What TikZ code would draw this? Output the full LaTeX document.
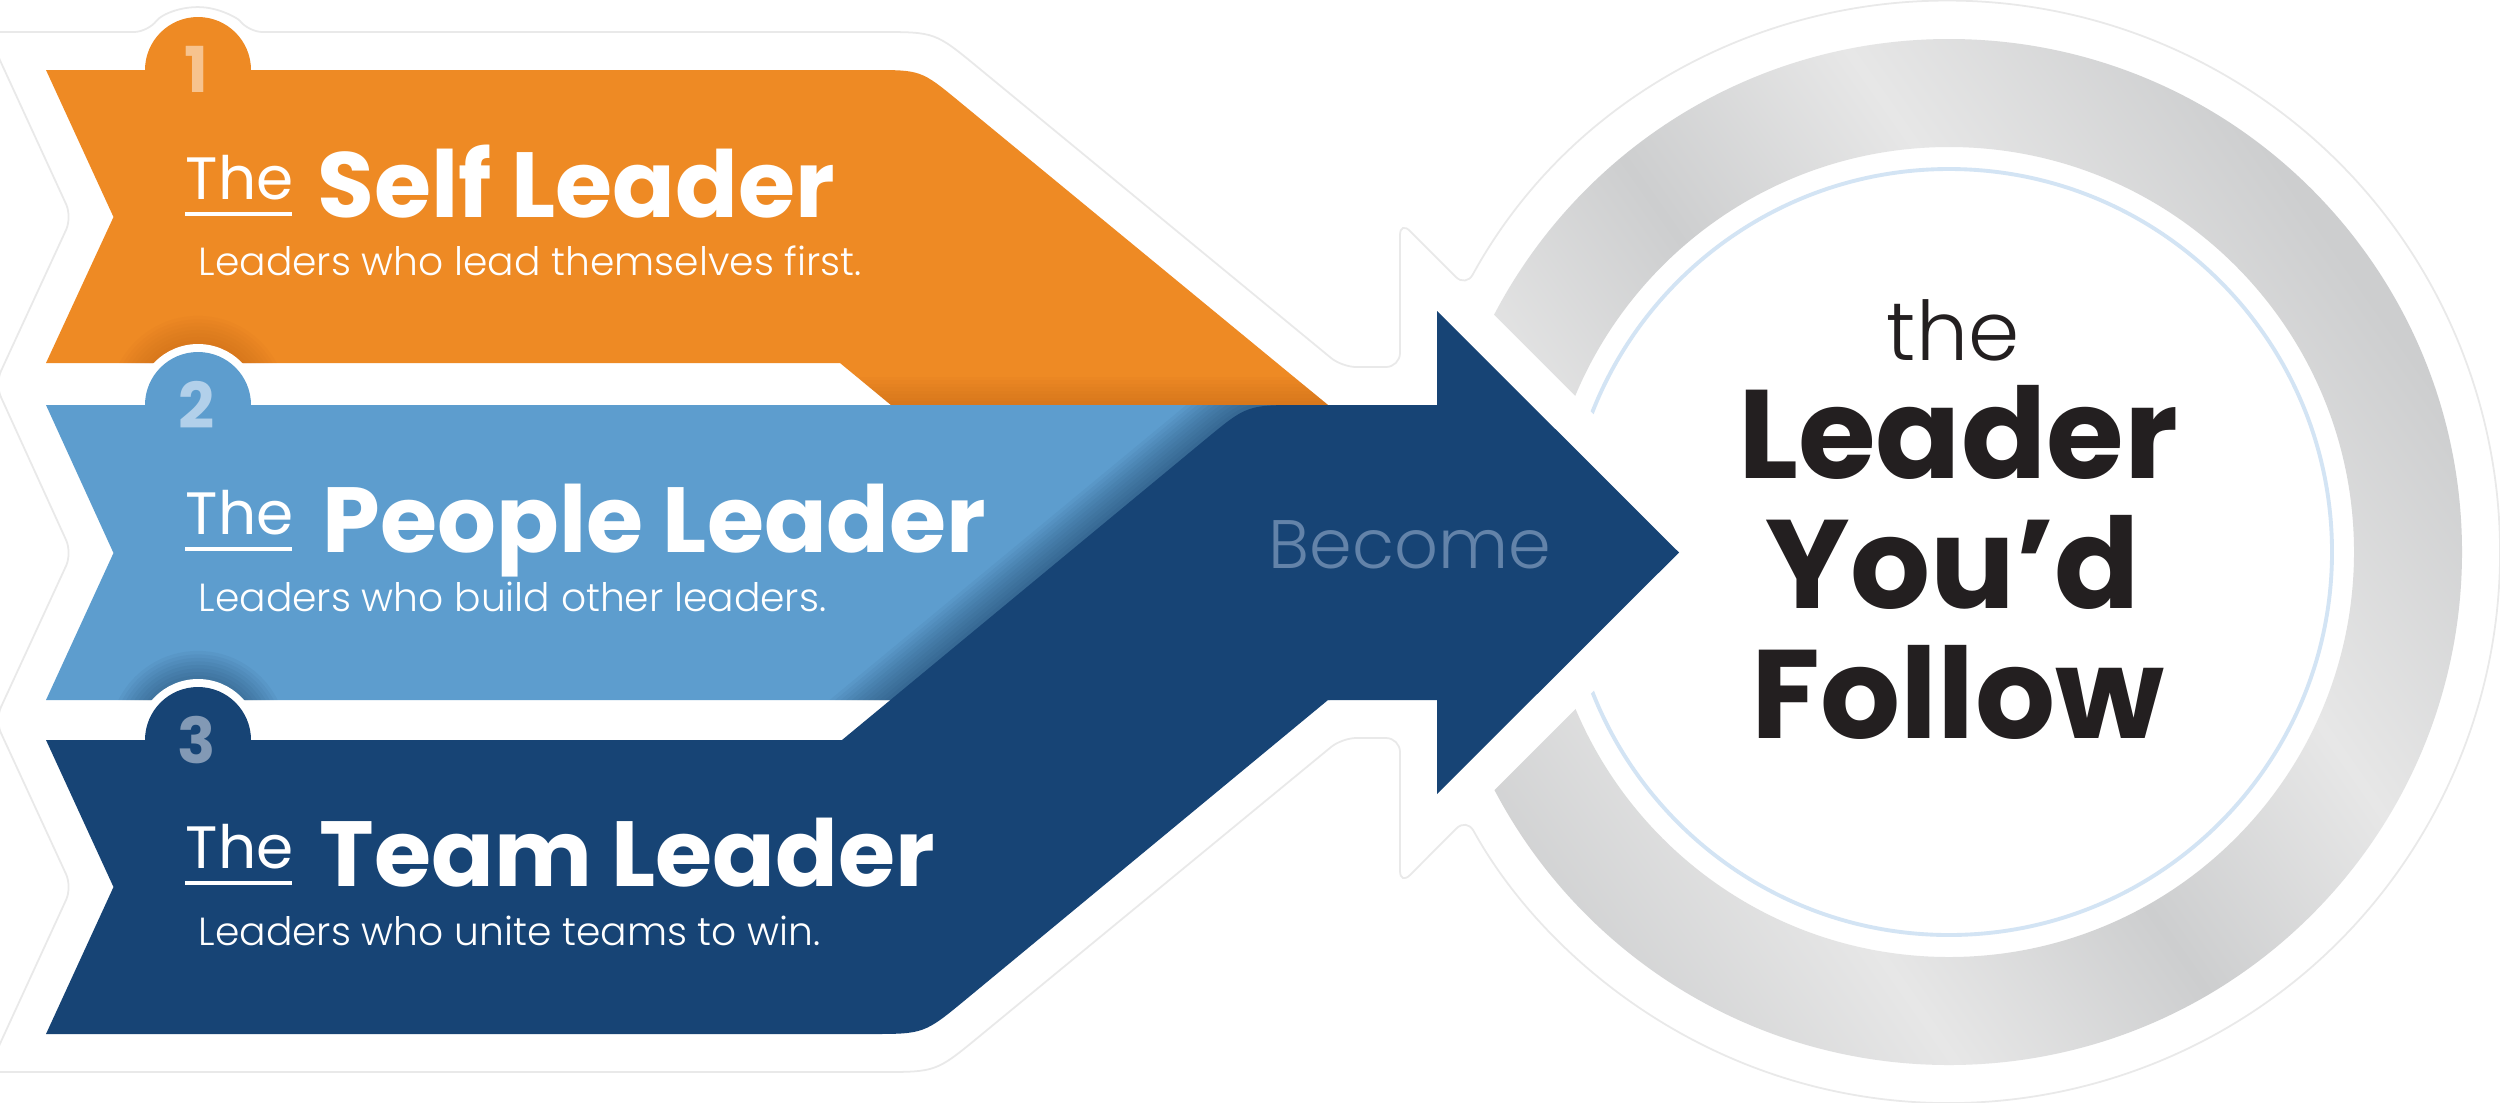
\documentclass[tikz,border=0pt]{standalone}
\usepackage{fontspec}
\setmainfont{Poppins}
\newfontfamily\poplight{Poppins Light}
\definecolor{orng}{HTML}{EE8A24}
\definecolor{orngdk}{HTML}{B85E12}
\definecolor{lblue}{HTML}{5D9DCE}
\definecolor{dblue}{HTML}{174475}
\definecolor{num1}{HTML}{F7C38E}
\definecolor{num2}{HTML}{B2D0EA}
\definecolor{num3}{HTML}{8299B5}
\definecolor{becomec}{HTML}{6383A9}
\definecolor{thinc}{HTML}{D3E4F4}
\definecolor{ringA}{HTML}{E7E7E7}
\definecolor{ringB}{HTML}{CDCECF}
\definecolor{inkc}{HTML}{231F20}
\definecolor{stick}{HTML}{E9E9E9}
\pgfdeclarehorizontalshading{metal}{100bp}{color(0bp)=(ringB); color(22bp)=(ringB); color(36bp)=(ringA); color(48bp)=(ringB); color(60bp)=(ringA); color(74bp)=(ringB); color(100bp)=(ringB)}
\tikzset{
  ttl/.style={anchor=base west, inner sep=0pt, text=white, font=\bfseries\fontsize{26.3}{30}\selectfont},
  thestyle/.style={anchor=base west, inner sep=0pt, text=white, font=\fontsize{17}{20}\selectfont},
  subt/.style={anchor=base west, inner sep=0pt, text=white, font=\poplight\fontsize{11.15}{14}\selectfont},
  numst/.style={inner sep=0pt, font=\bfseries\fontsize{18}{20}\selectfont},
  bigt/.style={anchor=base, inner sep=0pt, text=inkc, font=\bfseries\fontsize{35.8}{40}\selectfont},
  stickline/.style={draw=stick, line width=0.5pt},
  shd/.style={opacity=0.05}
}
\def\orangepath{(46,70) -- (145,70) arc[start angle=180,end angle=360,radius=53] -- (871,70) .. controls (921,70) .. (959.6,101.8) -- (1328,405) -- (891,405) -- (840,363) -- (46,363) -- (113.5,217) -- cycle}
\def\lbluepath{(46,405) -- (145,405) arc[start angle=180,end angle=360,radius=53] -- (1330,405) -- (1330,700) -- (46,700) -- (113.5,553) -- cycle}
\def\dbluepath{(46,740) -- (145,740) arc[start angle=180,end angle=360,radius=53] -- (842,740) -- (1204.6,440.1) .. controls (1247,405) .. (1302,405) -- (1437,405) -- (1437,311) -- (1679,552.5) -- (1437,794) -- (1437,700) -- (1328,700) -- (966.4,999) .. controls (924,1034) .. (869,1034) -- (46,1034) -- (113.5,887) -- cycle}
\begin{document}
\begin{tikzpicture}[x=0.01cm, y=-0.01cm]
\useasboundingbox (0,0) rectangle (2500,1102);
\fill[white] (0,0) rectangle (2500,1102);
% sticker outline
\draw[stickline, rounded corners=4pt] (1465.9,287) arc[start angle=-151.25,end angle=151.1,radius=551]
  -- (1400,885) -- (1400,738) -- (1342,738) -- (990.1,1027.5) .. controls (936,1072) .. (866,1072)
  -- (-13,1072) -- (72,887) -- (-5,720) -- (72,553) -- (-5,384) -- (72,217) -- (-13,32)
  -- (148,32) arc[start angle=-142.8,end angle=-37.2,radius=63]
  -- (865,32) .. controls (935,32) .. (989,76.5) -- (1342,367) -- (1400,367) -- (1400,221) -- cycle;
% silver ring and thin circle
\begin{scope}
  \clip (1732,552.5) -- (1179,0) -- (2600,0) -- (2600,1102) -- (1182.5,1102) -- cycle;
  \shade[even odd rule, shading=metal, shading angle=35] (1949,552) circle[radius=513] (1949,552) circle[radius=405];
  \draw[thinc, line width=1.1pt] (1949,552) circle[radius=383];
\end{scope}
% orange band
\fill[orng] \orangepath;
\begin{scope}
  \clip \orangepath;
  \foreach \w in {2,4,...,16} {
    \draw[line width=\w pt, orngdk, shd] (860,405) -- (1340,405);
    \draw[line width=\w pt, orngdk, shd] (198,405) circle[radius=61];
  }
\end{scope}
\fill[white] (198,405) circle[radius=61];
% light blue band
\fill[lblue] \lbluepath;
\begin{scope}
  \clip \lbluepath;
  \foreach \w in {2,4,...,22} {
    \draw[line width=\w pt, dblue!70!black, shd] (842,740) -- (1204.6,440.1) .. controls (1247,405) .. (1302,405) -- (1437,405);
  }
  \foreach \w in {2,4,...,16} {
    \draw[line width=\w pt, dblue!70!black, shd] (198,740) circle[radius=61];
  }
\end{scope}
\fill[white] (198,740) circle[radius=61];
% dark blue band and arrow
\fill[dblue] \dbluepath;
% numbers
\node[numst, text=num1] (n1) at (196,69) {1};
\node[numst, text=num2] (n2) at (197,405) {2};
\node[numst, text=num3] (n3) at (197,740) {3};
% band 1
\node[thestyle] (the1) at (185,199) {The};
\fill[white] (185,212) rectangle (292,216);
\node[ttl] (t1) at (317,217) {Self Leader};
\node[subt] (s1) at (198,275) {Leaders who lead themselves first.};
% band 2
\node[thestyle] (the2) at (185,534) {The};
\fill[white] (185,547) rectangle (292,551);
\node[ttl] (t2) at (322,552) {People Leader};
\node[subt] (s2) at (198,611) {Leaders who build other leaders.};
% band 3
\node[thestyle] (the3) at (185,868) {The};
\fill[white] (185,881) rectangle (292,885);
\node[ttl] (t3) at (319,886) {Team Leader};
\node[subt] (s3) at (198,945) {Leaders who unite teams to win.};
% become
\node[anchor=base west, inner sep=0pt, text=becomec, font=\poplight\fontsize{19.5}{22}\selectfont] (bec) at (1268,568) {Become};
% right text
\node[anchor=base, inner sep=0pt, text=inkc, font=\poplight\fontsize{23.4}{26}\selectfont] (rthe) at (1953,360) {the};
\node[bigt] (rl1) at (1958,478) {Leader};
\node[bigt] (rl2) at (1953,608) {You’d};
\node[bigt] (rl3) at (1958,738) {Follow};
\end{tikzpicture}
\end{document}
